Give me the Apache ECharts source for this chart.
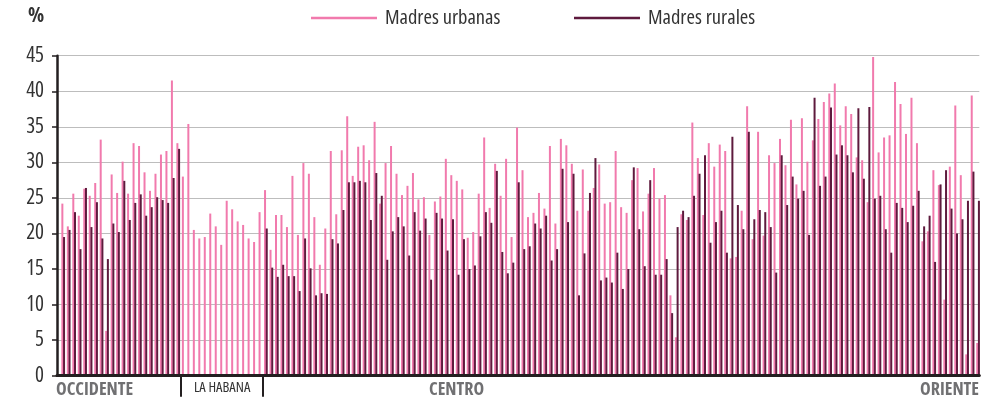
<!DOCTYPE html>
<html>
<head>
<meta charset="utf-8">
<script src="https://cdn.jsdelivr.net/npm/echarts@6/dist/echarts.min.js"></script>
<style>html,body{margin:0;padding:0;background:#fff;}#c{width:998px;height:402px;}</style>
</head>
<body>
<div id="c"></div>
<script>
const regions = ['OCCIDENTE', 'LA HABANA', 'CENTRO', 'ORIENTE'];
const regionCounts = [22, 15, 77, 54];
const yTicks = [0, 5, 10, 15, 20, 25, 30, 35, 40, 45];
const seriesNames = ['Madres urbanas', 'Madres rurales'];

const urbanas = [
 24.2,21.0,25.6,22.5,26.3,25.3,27.1,33.2,6.3,28.3,25.7,30.1,25.6,32.7,32.3,28.6,26.0,28.4,31.1,31.6,41.5,32.7,
 28.0,35.4,20.5,19.3,19.5,22.8,21.0,18.4,24.6,23.4,21.7,21.2,19.3,18.8,23.0,
 26.1,17.7,22.6,22.6,20.9,28.1,19.8,29.9,28.4,22.3,15.6,20.7,31.6,22.7,31.7,36.5,28.1,32.2,32.4,30.3,35.7,24.2,29.9,32.3,
 28.4,25.4,26.7,28.5,24.8,25.1,19.8,24.5,25.2,30.5,28.2,27.4,26.2,19.4,20.2,25.6,33.5,23.6,29.8,25.3,30.5,19.5,34.9,28.9,
 22.3,22.9,25.7,23.5,32.3,21.4,33.3,32.4,29.8,23.2,29.0,23.2,26.4,29.7,24.2,24.4,31.6,23.7,22.9,27.5,29.2,23.1,25.6,29.2,
 24.9,25.4,11.3,5.4,22.7,21.9,35.6,30.6,22.6,32.7,29.4,32.5,31.6,16.5,16.7,23.2,37.9,19.2,34.3,19.7,31.0,29.9,33.3,29.6,
 36.0,26.9,36.2,30.1,33.1,36.1,38.5,39.7,41.1,35.2,37.9,36.8,30.7,30.3,24.4,44.8,31.4,33.5,33.8,41.3,38.2,34.0,39.1,32.7,
 18.9,20.3,28.9,26.8,10.7,29.4,38.0,28.2,3.0,39.4,4.6
];
const rurales = [
 19.5,20.5,23.0,17.8,26.4,20.9,24.4,19.3,16.4,21.4,20.2,27.4,21.9,24.3,25.5,22.5,23.7,25.1,24.7,24.3,27.8,31.9,
 null,null,null,null,null,null,null,null,null,null,null,null,null,null,null,
 20.7,15.2,13.9,15.6,14.0,14.0,11.9,19.3,15.1,11.3,11.6,11.5,19.2,18.6,23.3,27.2,27.2,27.4,27.2,21.9,28.5,25.3,16.3,20.3,
 22.3,21.0,16.9,23.0,20.4,22.1,13.5,22.9,22.1,17.6,22.0,14.2,19.2,15.0,15.5,19.6,23.0,21.5,28.8,17.4,14.4,15.9,27.2,17.8,
 18.2,21.4,20.7,22.5,16.2,17.8,29.1,21.6,28.4,11.3,17.2,25.7,30.6,13.4,13.8,13.1,17.3,12.2,15.0,29.3,20.6,15.4,27.5,14.2,
 14.2,16.4,8.8,20.9,23.2,22.3,25.3,28.4,31.0,18.7,21.6,23.2,17.3,33.6,24.0,20.6,34.3,22.0,23.3,23.0,20.9,14.5,31.0,24.0,
 28.0,24.9,26.0,19.8,39.1,26.7,28.0,37.7,31.1,32.4,31.0,28.6,37.6,27.7,37.8,24.9,25.3,20.6,17.3,24.3,23.6,21.6,23.9,26.0,
 21.0,22.5,16.0,26.9,28.9,23.5,20.0,22.0,24.6,28.7,24.6
];

const categories = [];
regions.forEach((r, k) => { for (let j = 1; j <= regionCounts[k]; j++) categories.push(r + ' ' + j); });
// band edges (0..N) used only to place the region divider ticks
const edges = [];
for (let e = 0; e <= categories.length; e++) edges.push(String(e));
const boundaries = [regionCounts[0], regionCounts[0] + regionCounts[1]];

const F = "'Open Sans', 'Roboto Condensed', sans-serif";
const PINK = '#f17aad', DARK = '#5e1a3d', AXIS = '#231f20', GRAY = '#707072';

const legendText = {fontSize: 20.5, fontStyle: 'condensed', color: '#333', fontFamily: F, padding: [0, 0, 0, 3]};

const chart = echarts.init(document.getElementById('c'), null, {renderer: 'canvas'});
chart.setOption({
  animation: false,
  backgroundColor: '#fff',
  legend: [
    {data: [seriesNames[0]], left: 311, top: 7.5, padding: 0, icon: 'rect', itemWidth: 66, itemHeight: 2.5, textStyle: legendText},
    {data: [seriesNames[1]], left: 574, top: 7.5, padding: 0, icon: 'rect', itemWidth: 66, itemHeight: 2.5, textStyle: legendText}
  ],
  grid: [
    {left: 60.46, right: 17.2, top: 55.7, bottom: 26.3},
    {left: 57, right: 18.7, top: 55.7, bottom: 26.3}
  ],
  xAxis: [
    {type: 'category', gridIndex: 0, data: categories, boundaryGap: true,
     axisLine: {show: false}, axisLabel: {show: false}, splitLine: {show: false}, axisTick: {show: false}},
    {type: 'value', gridIndex: 1, min: 0, max: 1, z: 10,
     axisLine: {show: true, onZero: false, lineStyle: {color: AXIS, width: 3}},
     axisTick: {show: false}, axisLabel: {show: false}, splitLine: {show: false}},
    {type: 'category', gridIndex: 0, data: edges, boundaryGap: false, position: 'bottom',
     axisLine: {show: false}, axisLabel: {show: false}, splitLine: {show: false},
     axisTick: {show: true, interval: (i) => boundaries.indexOf(i) >= 0, length: 21, lineStyle: {color: AXIS, width: 2}}}
  ],
  yAxis: [
    {type: 'value', gridIndex: 0, min: yTicks[0], max: yTicks[yTicks.length - 1], interval: 5, show: false, splitLine: {show: false}},
    {type: 'value', gridIndex: 1, min: yTicks[0], max: yTicks[yTicks.length - 1], interval: 5,
     axisLine: {show: true, lineStyle: {color: AXIS, width: 2.5}},
     axisTick: {show: true, length: 5, lineStyle: {color: AXIS, width: 1.5}},
     axisLabel: {fontSize: 21, fontStyle: 'condensed', color: '#333', margin: 13, fontFamily: F},
     splitLine: {show: true, lineStyle: {color: '#bdbdbd', width: 1.2}}}
  ],
  series: [
    {name: seriesNames[0], type: 'bar', xAxisIndex: 0, yAxisIndex: 0, data: urbanas,
     barWidth: 2, barGap: '-15%', itemStyle: {color: PINK}, silent: true},
    {name: seriesNames[1], type: 'bar', xAxisIndex: 0, yAxisIndex: 0, data: rurales,
     barWidth: 2, barGap: '-15%', itemStyle: {color: DARK}, silent: true}
  ],
  graphic: [
    {type: 'text', left: 28, top: 6, style: {text: '%', font: "condensed bold 21px " + F, fill: '#333'}},
    {type: 'text', left: 56, top: 381, style: {text: regions[0], font: "condensed bold 18px " + F, fill: GRAY}},
    {type: 'text', left: 194, top: 380.5, style: {text: regions[1], font: "condensed 14.5px " + F, fill: '#333'}},
    {type: 'text', left: 429, top: 381, style: {text: regions[2], font: "condensed bold 18px " + F, fill: GRAY}},
    {type: 'text', right: 19, top: 381, style: {text: regions[3], font: "condensed bold 18px " + F, fill: GRAY}}
  ]
});
</script>
</body>
</html>
